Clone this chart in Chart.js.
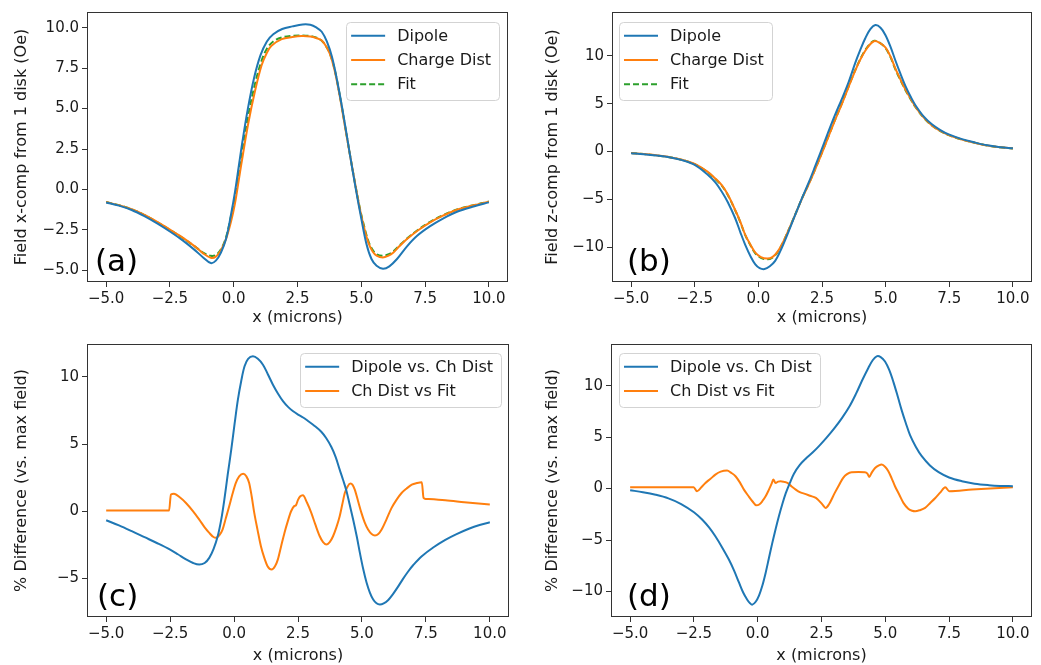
<!DOCTYPE html>
<html><head><meta charset="utf-8">
<script src="https://cdn.jsdelivr.net/npm/chart.js@4.4.1/dist/chart.umd.min.js"></script>
<style>
html,body{margin:0;padding:0;background:#fff;width:1041px;height:665px;overflow:hidden}
canvas{position:absolute}
</style></head><body>
<canvas id="ca" width="520" height="330" style="left:0;top:0"></canvas>
<canvas id="cb" width="511" height="330" style="left:530px;top:0"></canvas>
<canvas id="cc" width="520" height="335" style="left:0;top:330px"></canvas>
<canvas id="cd" width="511" height="335" style="left:530px;top:330px"></canvas>
<script>
// ---------- tick labels ----------
const xTicks = [-5, -2.5, 0, 2.5, 5, 7.5, 10];
const yTicksA = [-5, -2.5, 0, 2.5, 5, 7.5, 10];
const yTicksB = [-10, -5, 0, 5, 10];
const yTicksC = [-5, 0, 5, 10];
const yTicksD = [-10, -5, 0, 5, 10];

// ---------- panel (a): field x-comp ----------
const aDipole = [[-5,-0.80],[-4.5,-1.0],[-4,-1.27],[-3.5,-1.65],[-3,-2.1],[-2.5,-2.6],[-2,-3.15],[-1.5,-3.78],[-1.2,-4.2],[-0.9,-4.55],[-0.7,-4.4],[-0.5,-3.9],[-0.3,-3.05],[-0.1,-1.5],[0.05,-0.15],[0.2,1.45],[0.35,3.05],[0.55,4.95],[0.8,6.9],[1.05,8.3],[1.3,9.15],[1.55,9.6],[1.9,9.92],[2.3,10.08],[2.7,10.2],[3.0,10.18],[3.25,10.0],[3.45,9.75],[3.65,9.15],[3.85,8.2],[4.05,6.75],[4.3,4.6],[4.55,2.2],[4.8,-0.1],[5.0,-1.8],[5.2,-3.35],[5.4,-4.3],[5.6,-4.72],[5.85,-4.9],[6.1,-4.75],[6.4,-4.3],[6.8,-3.5],[7.2,-2.85],[7.7,-2.27],[8.2,-1.8],[8.75,-1.38],[9.4,-1.05],[10,-0.80]];
const aCharge = [[-5,-0.78],[-4.5,-0.97],[-4,-1.22],[-3.5,-1.57],[-3,-2.0],[-2.5,-2.48],[-2,-2.98],[-1.5,-3.55],[-1.2,-3.95],[-0.9,-4.22],[-0.7,-4.15],[-0.5,-3.75],[-0.3,-3.05],[-0.1,-1.95],[0.05,-0.85],[0.2,0.6],[0.3,1.58],[0.56,4.0],[0.83,6.05],[1.09,7.66],[1.3,8.45],[1.48,8.88],[1.88,9.29],[2.3,9.42],[2.66,9.48],[3.0,9.45],[3.25,9.35],[3.44,9.22],[3.6,8.9],[3.77,8.38],[3.95,7.4],[4.16,5.74],[4.35,4.0],[4.55,2.19],[4.8,0.0],[4.95,-1.25],[5.1,-2.3],[5.28,-3.3],[5.45,-3.85],[5.6,-4.09],[5.84,-4.2],[6.05,-4.1],[6.26,-3.89],[6.5,-3.5],[6.78,-3.08],[7.2,-2.55],[7.7,-2.03],[8.2,-1.62],[8.75,-1.25],[9.4,-0.98],[10,-0.75]];
const aFit = [[-5,-0.78],[-4.5,-0.97],[-4,-1.22],[-3.5,-1.58],[-3,-2.02],[-2.5,-2.5],[-2,-3.0],[-1.5,-3.55],[-1.2,-3.9],[-0.9,-4.1],[-0.7,-4.05],[-0.5,-3.7],[-0.3,-2.95],[-0.1,-1.6],[0.05,-0.5],[0.2,1.0],[0.35,2.55],[0.56,4.5],[0.83,6.5],[1.09,7.95],[1.3,8.7],[1.55,9.15],[1.9,9.4],[2.3,9.5],[2.7,9.52],[3.0,9.48],[3.25,9.38],[3.45,9.2],[3.6,8.9],[3.77,8.4],[3.95,7.45],[4.16,5.8],[4.35,4.05],[4.55,2.2],[4.8,0.0],[4.95,-1.2],[5.1,-2.2],[5.28,-3.2],[5.45,-3.75],[5.6,-4.0],[5.84,-4.1],[6.05,-4.02],[6.26,-3.82],[6.5,-3.45],[6.78,-3.05],[7.2,-2.52],[7.7,-2.0],[8.2,-1.6],[8.75,-1.24],[9.4,-0.97],[10,-0.75]];

// ---------- panel (b): field z-comp ----------
const bDipole = [[-5,-0.17],[-4.5,-0.28],[-4,-0.42],[-3.5,-0.6],[-3,-0.9],[-2.5,-1.4],[-2,-2.4],[-1.7,-3.2],[-1.43,-4.23],[-1.2,-5.3],[-0.91,-6.98],[-0.7,-8.5],[-0.52,-9.73],[-0.3,-11.0],[-0.12,-11.8],[0.05,-12.2],[0.24,-12.3],[0.45,-12.0],[0.66,-11.44],[0.9,-10.2],[1.19,-8.35],[1.45,-6.6],[1.71,-4.91],[2.0,-3.1],[2.24,-1.48],[2.5,0.3],[2.76,2.13],[3.0,3.75],[3.29,5.57],[3.55,7.3],[3.81,9.3],[4.0,10.6],[4.2,11.85],[4.4,12.8],[4.6,13.23],[4.8,12.95],[4.99,12.2],[5.2,10.9],[5.38,9.55],[5.58,8.15],[5.78,6.85],[6.0,5.65],[6.17,4.85],[6.5,3.65],[6.83,2.82],[7.15,2.25],[7.48,1.79],[8.0,1.3],[8.5,0.95],[9.0,0.65],[9.5,0.45],[10,0.34]];
const bCharge = [[-5,-0.16],[-4.5,-0.26],[-4,-0.4],[-3.5,-0.58],[-3,-0.85],[-2.5,-1.3],[-2,-2.1],[-1.7,-2.8],[-1.43,-3.54],[-1.2,-4.5],[-0.91,-6.12],[-0.7,-7.4],[-0.52,-8.69],[-0.3,-9.8],[-0.12,-10.58],[0.1,-11.05],[0.35,-11.2],[0.55,-11.05],[0.75,-10.5],[0.95,-9.6],[1.19,-8.2],[1.45,-6.6],[1.71,-4.95],[2.0,-3.3],[2.24,-1.82],[2.5,-0.15],[2.76,1.6],[3.0,3.2],[3.29,5.05],[3.55,6.8],[3.81,8.49],[4.0,9.6],[4.2,10.55],[4.4,11.25],[4.55,11.55],[4.75,11.4],[4.99,10.9],[5.2,9.9],[5.38,8.7],[5.58,7.55],[5.78,6.48],[6.0,5.45],[6.17,4.7],[6.5,3.55],[6.83,2.71],[7.15,2.15],[7.48,1.72],[8.0,1.25],[8.5,0.92],[9.0,0.63],[9.5,0.44],[10,0.33]];
const bFit = [[-5,-0.16],[-4.5,-0.26],[-4,-0.41],[-3.5,-0.59],[-3,-0.87],[-2.5,-1.33],[-2,-2.15],[-1.7,-2.85],[-1.43,-3.6],[-1.2,-4.55],[-0.91,-6.15],[-0.7,-7.45],[-0.52,-8.72],[-0.3,-9.85],[-0.12,-10.65],[0.1,-11.12],[0.35,-11.28],[0.55,-11.1],[0.75,-10.55],[0.95,-9.62],[1.19,-8.2],[1.45,-6.58],[1.71,-4.92],[2.0,-3.26],[2.24,-1.78],[2.5,-0.1],[2.76,1.65],[3.0,3.25],[3.29,5.1],[3.55,6.85],[3.81,8.55],[4.0,9.65],[4.2,10.62],[4.4,11.32],[4.55,11.6],[4.75,11.42],[4.99,10.85],[5.2,9.82],[5.38,8.62],[5.58,7.48],[5.78,6.42],[6.0,5.4],[6.17,4.66],[6.5,3.52],[6.83,2.7],[7.15,2.14],[7.48,1.72],[8.0,1.25],[8.5,0.92],[9.0,0.63],[9.5,0.44],[10,0.33]];

// ---------- panel (c): % difference, x-comp ----------
const cDipVsCh = [[-5,-0.67],[-4.5,-1.05],[-4,-1.48],[-3.5,-1.93],[-3,-2.38],[-2.5,-2.86],[-2.2,-3.2],[-1.88,-3.58],[-1.6,-3.85],[-1.36,-3.97],[-1.15,-3.85],[-0.97,-3.47],[-0.8,-2.8],[-0.64,-1.86],[-0.5,-0.6],[-0.38,0.87],[-0.25,2.7],[-0.11,4.59],[0.02,6.5],[0.15,8.31],[0.28,9.7],[0.41,10.79],[0.55,11.35],[0.74,11.53],[0.93,11.35],[1.13,10.91],[1.32,10.2],[1.52,9.42],[1.72,8.75],[1.92,8.18],[2.12,7.75],[2.31,7.44],[2.5,7.2],[2.7,6.98],[2.89,6.72],[3.15,6.35],[3.41,5.92],[3.6,5.45],[3.8,4.8],[3.97,4.05],[4.13,3.1],[4.26,2.35],[4.39,1.55],[4.52,0.5],[4.66,-0.65],[4.8,-1.9],[4.92,-3.1],[5.05,-4.3],[5.18,-5.3],[5.31,-6.05],[5.44,-6.57],[5.57,-6.85],[5.7,-6.94],[5.85,-6.86],[6.03,-6.6],[6.2,-6.2],[6.4,-5.65],[6.6,-5.05],[6.8,-4.5],[7.0,-4.02],[7.34,-3.35],[7.8,-2.68],[8.26,-2.13],[8.7,-1.7],[9.18,-1.3],[9.6,-1.02],[10,-0.82]];
const cChVsFit = [[-5,0.05],[-2.54,0.05],[-2.47,1.25],[-2.35,1.3],[-2.1,1.0],[-1.88,0.62],[-1.6,0.0],[-1.36,-0.62],[-1.15,-1.2],[-0.97,-1.61],[-0.82,-1.9],[-0.71,-1.98],[-0.58,-1.8],[-0.45,-1.36],[-0.32,-0.5],[-0.19,0.37],[-0.06,1.3],[0.07,2.11],[0.2,2.6],[0.36,2.8],[0.48,2.6],[0.59,2.11],[0.69,1.1],[0.79,-0.12],[0.92,-1.4],[1.05,-2.6],[1.18,-3.45],[1.31,-4.09],[1.47,-4.34],[1.6,-4.1],[1.71,-3.6],[1.84,-2.6],[1.97,-1.61],[2.1,-0.75],[2.23,0.0],[2.36,0.4],[2.42,0.45],[2.5,0.85],[2.58,1.1],[2.69,1.19],[2.85,0.65],[3.02,-0.12],[3.18,-1.0],[3.35,-1.86],[3.48,-2.3],[3.61,-2.48],[3.74,-2.3],[3.87,-1.86],[4.0,-1.2],[4.13,-0.37],[4.23,0.5],[4.33,1.36],[4.44,1.85],[4.55,2.06],[4.64,1.95],[4.72,1.61],[4.85,0.75],[4.98,-0.12],[5.11,-0.85],[5.24,-1.36],[5.38,-1.7],[5.51,-1.81],[5.64,-1.7],[5.77,-1.36],[5.96,-0.6],[6.16,0.25],[6.35,0.85],[6.55,1.36],[6.75,1.7],[6.95,1.98],[7.15,2.1],[7.34,2.16],[7.41,0.99],[7.5,0.92],[8.26,0.82],[9.0,0.68],[10,0.5]];

// ---------- panel (d): % difference, z-comp ----------
const dDipVsCh = [[-5,-0.16],[-4.5,-0.35],[-4,-0.6],[-3.5,-0.95],[-3,-1.5],[-2.5,-2.3],[-2.18,-3.01],[-1.9,-3.8],[-1.66,-4.64],[-1.4,-5.7],[-1.13,-6.9],[-0.93,-7.95],[-0.74,-9.1],[-0.57,-10.1],[-0.41,-10.8],[-0.3,-11.15],[-0.21,-11.28],[-0.08,-11.0],[0.05,-10.4],[0.18,-9.45],[0.31,-8.2],[0.44,-6.75],[0.57,-5.3],[0.7,-3.95],[0.83,-2.69],[0.96,-1.55],[1.1,-0.45],[1.26,0.55],[1.42,1.45],[1.65,2.3],[1.88,2.9],[2.15,3.5],[2.41,4.15],[2.7,4.95],[3.0,5.85],[3.3,6.85],[3.6,8.0],[3.85,9.2],[4.1,10.55],[4.34,11.75],[4.5,12.45],[4.66,12.85],[4.82,12.78],[4.99,12.35],[5.15,11.55],[5.32,10.35],[5.5,8.85],[5.65,7.55],[5.8,6.4],[5.97,5.2],[6.2,4.05],[6.43,3.15],[6.75,2.25],[7.09,1.6],[7.5,1.08],[8.0,0.72],[8.5,0.48],[9.06,0.33],[9.5,0.26],[10,0.23]];
const dChVsFit = [[-5,0.13],[-2.51,0.13],[-2.38,-0.26],[-2.2,0.15],[-2.05,0.55],[-1.85,0.95],[-1.66,1.36],[-1.45,1.65],[-1.2,1.75],[-1.05,1.55],[-0.87,1.2],[-0.7,0.6],[-0.54,-0.1],[-0.37,-0.7],[-0.21,-1.23],[-0.06,-1.62],[0.06,-1.55],[0.18,-1.23],[0.31,-0.75],[0.44,-0.1],[0.55,0.5],[0.61,0.88],[0.7,0.55],[0.8,0.68],[0.9,0.71],[1.03,0.65],[1.16,0.55],[1.33,0.2],[1.49,-0.1],[1.65,-0.35],[1.82,-0.49],[2.05,-0.7],[2.28,-0.91],[2.45,-1.3],[2.54,-1.56],[2.66,-1.88],[2.8,-1.5],[3.02,-0.42],[3.2,0.4],[3.35,1.04],[3.5,1.4],[3.68,1.59],[3.95,1.6],[4.2,1.59],[4.3,1.45],[4.37,1.13],[4.48,1.6],[4.6,2.0],[4.75,2.25],[4.86,2.33],[5.0,2.1],[5.12,1.69],[5.25,1.0],[5.38,0.23],[5.55,-0.6],[5.71,-1.39],[5.9,-1.95],[6.05,-2.15],[6.17,-2.2],[6.35,-2.1],[6.56,-1.88],[6.76,-1.4],[6.96,-0.91],[7.15,-0.4],[7.35,0.13],[7.51,-0.26],[8.4,-0.1],[10,0.13]];

// ---------- styling ----------
const BLUE = '#1f77b4', ORANGE = '#ff7f0e', GREEN = '#2ca02c';
const FONT = 'DejaVu Sans';
const TXT = '#1a1a1a';
Chart.defaults.font.family = FONT;
Chart.defaults.color = TXT;

const fmt = (dec) => (v) => (dec ? Number(v).toFixed(1) : String(Math.round(v))).replace('-', '\u2212');

const decoPlugin = {
  id: 'deco',
  afterDatasetsDraw(chart, args, o) {
    const ctx = chart.ctx, ca = chart.chartArea;
    const ds = chart.data.datasets;
    ctx.save();
    ctx.font = '16px "' + FONT + '"';
    let maxW = 0;
    ds.forEach(d => { maxW = Math.max(maxW, ctx.measureText(d.label).width); });
    const w = 5 + 34 + 12 + maxW + 8;
    const h = 13.7 + (ds.length - 1) * 24.3 + 15.5;
    const lx = o.legendSide === 'right' ? ca.right - o.legendMargin - w : ca.left + o.legendMargin;
    const ly = ca.top + o.legendTop;
    ctx.beginPath();
    if (ctx.roundRect) ctx.roundRect(Math.round(lx) + 0.5, Math.round(ly) + 0.5, Math.round(w), Math.round(h), 4);
    else ctx.rect(Math.round(lx) + 0.5, Math.round(ly) + 0.5, Math.round(w), Math.round(h));
    ctx.fillStyle = 'rgba(255,255,255,0.8)';
    ctx.fill();
    ctx.strokeStyle = '#d3d3d3';
    ctx.lineWidth = 1;
    ctx.stroke();
    ds.forEach((d, i) => {
      const cy = ly + 13.7 + i * 24.3;
      ctx.beginPath();
      ctx.setLineDash(d.borderDash || []);
      ctx.strokeStyle = d.borderColor;
      ctx.lineWidth = d.borderWidth;
      ctx.moveTo(lx + 5, cy);
      ctx.lineTo(lx + 39, cy);
      ctx.stroke();
      ctx.setLineDash([]);
      ctx.fillStyle = TXT;
      ctx.textBaseline = 'middle';
      ctx.textAlign = 'left';
      ctx.fillText(d.label, lx + 51, cy + 1);
    });
    ctx.font = '31px "' + FONT + '"';
    ctx.fillStyle = '#000';
    ctx.textBaseline = 'alphabetic';
    ctx.textAlign = 'left';
    ctx.fillText(o.tag, ca.left + o.tagDx, ca.bottom - o.tagDy);
    ctx.restore();
  },
  afterDraw(chart) {
    const ctx = chart.ctx, ca = chart.chartArea;
    ctx.save();
    ctx.strokeStyle = '#333';
    ctx.lineWidth = 1;
    ctx.strokeRect(Math.round(ca.left) + 0.5, Math.round(ca.top) + 0.5, Math.round(ca.right - ca.left) - 1, Math.round(ca.bottom - ca.top) - 1);
    ctx.restore();
  }
};

const toPts = (arr) => arr.map(p => ({x: p[0], y: p[1]}));
const line = (label, arr, color, dash, mono) => ({
  label, data: toPts(arr), borderColor: color, backgroundColor: color,
  borderWidth: 2, pointRadius: 0, fill: false,
  cubicInterpolationMode: mono ? 'monotone' : 'default', tension: mono ? 0 : 0.35,
  borderDash: dash || [],
});

function makePanel(id, p) {
  new Chart(document.getElementById(id), {
    type: 'line',
    data: { datasets: p.datasets },
    plugins: [decoPlugin],
    options: {
      responsive: false, animation: false, events: [],
      layout: { padding: p.padding },
      plugins: {
        legend: { display: false }, tooltip: { enabled: false },
        deco: p.deco,
      },
      scales: {
        x: {
          type: 'linear', min: -5.75, max: 10.75,
          afterFit(s) { s.height = 48; },
          afterBuildTicks(s) { s.ticks = xTicks.map(v => ({value: v})); },
          ticks: { callback: fmt(true), font: { size: 15 }, color: TXT, padding: 3, maxRotation: 0, autoSkip: false },
          grid: { display: true, drawOnChartArea: false, drawTicks: true, tickLength: 5, color: '#333' },
          border: { display: false },
          title: { display: true, text: 'x (microns)', font: { size: 16 }, color: TXT, padding: { top: 0, bottom: p.xTitlePad } },
        },
        y: {
          type: 'linear', min: p.ymin, max: p.ymax,
          afterFit(s) { s.width = p.yWidth; },
          afterBuildTicks(s) { s.ticks = p.yTicks.map(v => ({value: v})); },
          ticks: { callback: fmt(p.yDec), font: { size: 15 }, color: TXT, padding: 3, autoSkip: false },
          grid: { display: true, drawOnChartArea: false, drawTicks: true, tickLength: 5, color: '#333' },
          border: { display: false },
          title: { display: true, text: p.yTitle, font: { size: 16 }, color: TXT, padding: { top: p.yTitlePad, bottom: 0 } },
        },
      },
    },
  });
}

makePanel('ca', {
  datasets: [line('Dipole', aDipole, BLUE), line('Charge Dist', aCharge, ORANGE), line('Fit', aFit, GREEN, [6, 3])],
  padding: { left: 0, right: 12, top: 7, bottom: 0 }, yWidth: 87, xTitlePad: 2.4,
  ymin: -5.72, ymax: 10.97, yTicks: yTicksA, yDec: true, yTitlePad: 12.4,
  yTitle: 'Field x-comp from 1 disk (Oe)',
  deco: { legendSide: 'right', legendMargin: 9, legendTop: 10, tag: '(a)', tagDx: 8, tagDy: 11.5 },
});
makePanel('cb', {
  datasets: [line('Dipole', bDipole, BLUE), line('Charge Dist', bCharge, ORANGE), line('Fit', bFit, GREEN, [6, 3])],
  padding: { left: 0, right: 9, top: 7, bottom: 0 }, yWidth: 82, xTitlePad: 2.4,
  ymin: -13.65, ymax: 14.6, yTicks: yTicksB, yDec: false, yTitlePad: 13.4,
  yTitle: 'Field z-comp from 1 disk (Oe)',
  deco: { legendSide: 'left', legendMargin: 7, legendTop: 10, tag: '(b)', tagDx: 15, tagDy: 11.5 },
});
makePanel('cc', {
  datasets: [line('Dipole vs. Ch Dist', cDipVsCh, BLUE), line('Ch Dist vs Fit', cChVsFit, ORANGE, null, true)],
  padding: { left: 0, right: 11, top: 14, bottom: 0 }, yWidth: 87, xTitlePad: 0,
  ymin: -7.87, ymax: 12.45, yTicks: yTicksC, yDec: false, yTitlePad: 12.4,
  yTitle: '% Difference (vs. max field)',
  deco: { legendSide: 'right', legendMargin: 8, legendTop: 9, tag: '(c)', tagDx: 10, tagDy: 11 },
});
makePanel('cd', {
  datasets: [line('Dipole vs. Ch Dist', dDipVsCh, BLUE), line('Ch Dist vs Fit', dChVsFit, ORANGE, null, true)],
  padding: { left: 0, right: 9, top: 14, bottom: 0 }, yWidth: 81, xTitlePad: 0,
  ymin: -12.48, ymax: 14.05, yTicks: yTicksD, yDec: false, yTitlePad: 13.4,
  yTitle: '% Difference (vs. max field)',
  deco: { legendSide: 'left', legendMargin: 8, legendTop: 9, tag: '(d)', tagDx: 16, tagDy: 11 },
});
</script>
</body></html>
